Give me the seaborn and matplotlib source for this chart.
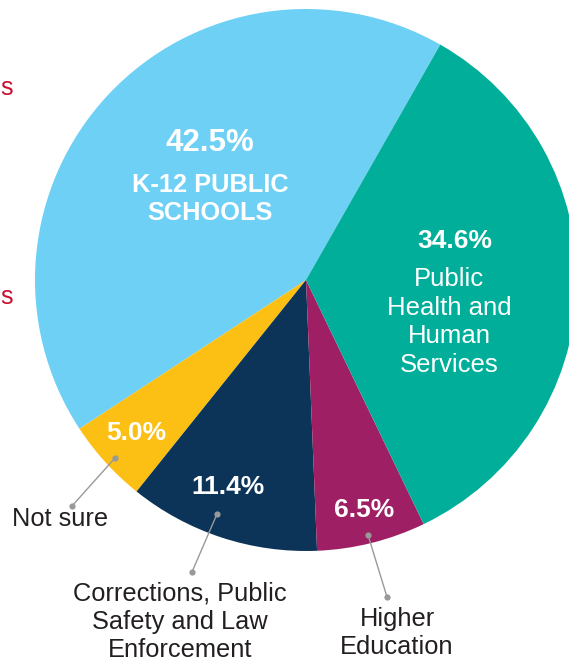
import numpy as np
import seaborn as sns
import matplotlib.pyplot as plt

categories = ['K-12 PUBLIC\nSCHOOLS', 'Not sure', 'Corrections, Public\nSafety and Law\nEnforcement',
              'Higher\nEducation', 'Public\nHealth and\nHuman\nServices']
shares = [42.5, 5.0, 11.4, 6.5, 34.6]
colors = ['#6fd0f6', '#fcbf14', '#0c3459', '#9e1f63', '#00ae99']

sns.set_theme(style="white")
plt.rcParams['font.family'] = ['Liberation Sans', 'DejaVu Sans']

W, H = 569, 661
cx, cy, R = 306, 280, 271

fig = plt.figure(figsize=(W / 100, H / 100), dpi=100)
ax = fig.add_axes([0, 0, 1, 1])
ax.pie(shares, colors=colors, startangle=60.3, counterclock=True,
       wedgeprops=dict(linewidth=0))
ax.set_xlim(-cx / R, (W - cx) / R)
ax.set_ylim(-(H - cy) / R, cy / R)
ax.set_aspect('auto')
ax.axis('off')


def p(px, py):
    return (px - cx) / R, (cy - py) / R


white = dict(color='white', ha='center', va='center')
dark = '#231f20'

# percentage labels inside slices
ax.text(*p(210, 143), f'{shares[0]:.1f}%', fontsize=22.5, fontweight='bold', **white)
ax.text(*p(210, 199), categories[0], fontsize=18.3, fontweight='bold', linespacing=1.17, **white)
ax.text(*p(455, 241), f'{shares[4]:.1f}%', fontsize=19, fontweight='bold', **white)
ax.text(*p(449, 322), categories[4], fontsize=18.5, linespacing=1.25, **white)
ax.text(*p(136, 433), f'{shares[1]:.1f}%', fontsize=19, fontweight='bold', **white)
ax.text(*p(228, 487), f'{shares[2]:.1f}%', fontsize=19, fontweight='bold', **white)
ax.text(*p(364, 510), f'{shares[3]:.1f}%', fontsize=19, fontweight='bold', **white)

# outside labels with leader lines
leaders = [((115, 458), (72, 506)), ((217, 514), (192, 572)), ((368, 535), (387, 597))]
for a, b in leaders:
    xa, ya = p(*a)
    xb, yb = p(*b)
    ax.plot([xa, xb], [ya, yb], color='#999999', lw=1, marker='o', ms=4.5,
            markeredgewidth=0, solid_capstyle='butt')

ax.text(*p(60, 519), categories[1], fontsize=18.3, color=dark, ha='center', va='center')
ax.text(*p(180, 622), categories[2], fontsize=18.3, color=dark, ha='center', va='center',
        linespacing=1.22)
ax.text(*p(397, 633), categories[3], fontsize=18.3, color=dark, ha='center', va='center',
        linespacing=1.2)

# cropped text from neighbouring figure
ax.text(*p(0, 88), 's', fontsize=18, color='#c8102e', ha='left', va='center')
ax.text(*p(0, 297), 's', fontsize=18, color='#c8102e', ha='left', va='center')

fig.savefig('out.png', dpi=100)
